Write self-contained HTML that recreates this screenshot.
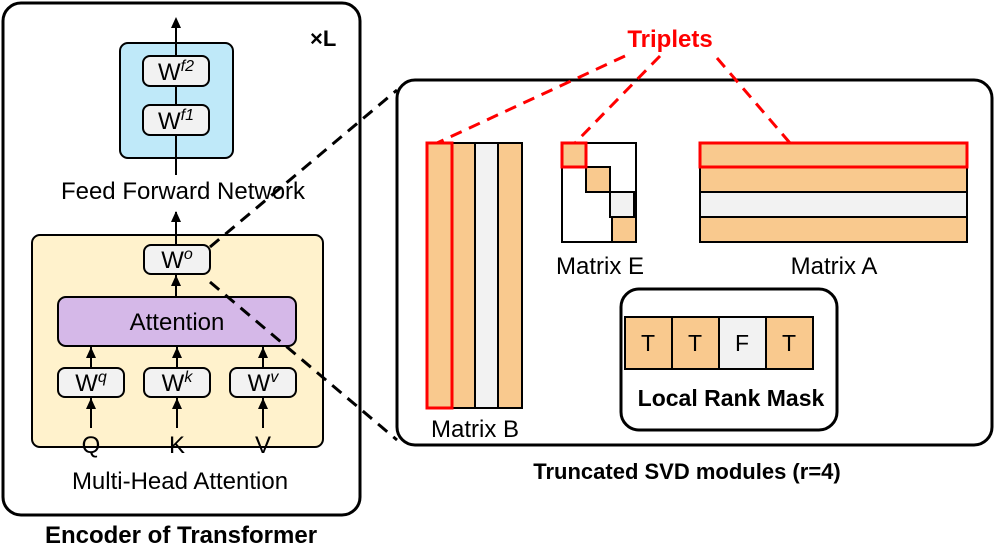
<!DOCTYPE html>
<html><head><meta charset="utf-8"><style>
body{margin:0;background:#fff;}
svg{display:block;font-family:"Liberation Sans",sans-serif;}
</style></head><body>
<svg width="996" height="558" viewBox="0 0 996 558" xmlns="http://www.w3.org/2000/svg">
<!-- left box -->
<rect x="3" y="3" width="357" height="512" rx="18" fill="#fff" stroke="#000" stroke-width="3"/>
<text x="310" y="46" font-size="22" font-weight="bold">×L</text>
<rect x="120" y="43" width="113" height="115" rx="8" fill="#bfe9f9" stroke="#000" stroke-width="2"/>
<line x1="176" y1="175" x2="176" y2="20" stroke="#000" stroke-width="2"/>
<path d="M171,28 L176,17 L181,28z"/><path d="M171,113 L176,102 L181,113z"/><path d="M171,64 L176,53 L181,64z"/>
<rect x="143" y="56" width="66" height="30" rx="7" fill="#f2f2f2" stroke="#000" stroke-width="2"/>
<rect x="143" y="105" width="66" height="30" rx="7" fill="#f2f2f2" stroke="#000" stroke-width="2"/>
<text x="176" y="80" font-size="24" text-anchor="middle">W<tspan font-size="16" font-style="italic" dy="-9">f2</tspan></text>
<text x="176" y="129" font-size="24" text-anchor="middle">W<tspan font-size="16" font-style="italic" dy="-9">f1</tspan></text>
<text x="183" y="199" font-size="24" text-anchor="middle">Feed Forward Network</text>
<rect x="32" y="235" width="291" height="212" rx="8" fill="#fff2cc" stroke="#000" stroke-width="2"/>
<line x1="176" y1="245" x2="176" y2="212" stroke="#000" stroke-width="2"/><path d="M171,222 L176,211 L181,222z"/>
<line x1="176" y1="297" x2="176" y2="274" stroke="#000" stroke-width="2"/><path d="M171,286 L176,275 L181,286z"/>
<rect x="144" y="245" width="66" height="29" rx="7" fill="#f2f2f2" stroke="#000" stroke-width="2"/>
<text x="177" y="268" font-size="24" text-anchor="middle">W<tspan font-size="16" font-style="italic" dy="-9">o</tspan></text>
<rect x="58" y="297" width="238" height="49" rx="8" fill="#d5b8e8" stroke="#000" stroke-width="2"/>
<text x="177" y="330" font-size="24" text-anchor="middle">Attention</text>
<g stroke="#000" stroke-width="2">
<line x1="91" y1="428" x2="91" y2="397"/><line x1="91" y1="368" x2="91" y2="346"/>
<line x1="177" y1="428" x2="177" y2="397"/><line x1="177" y1="368" x2="177" y2="346"/>
<line x1="263" y1="428" x2="263" y2="397"/><line x1="263" y1="368" x2="263" y2="346"/>
</g>
<path d="M86,358 L91,347 L96,358z M172,358 L177,347 L182,358z M258,358 L263,347 L268,358z M86,409 L91,398 L96,409z M172,409 L177,398 L182,409z M258,409 L263,398 L268,409z"/>
<rect x="58" y="368" width="66" height="29" rx="7" fill="#f2f2f2" stroke="#000" stroke-width="2"/>
<rect x="144" y="368" width="66" height="29" rx="7" fill="#f2f2f2" stroke="#000" stroke-width="2"/>
<rect x="230" y="368" width="66" height="29" rx="7" fill="#f2f2f2" stroke="#000" stroke-width="2"/>
<text x="91" y="391" font-size="24" text-anchor="middle">W<tspan font-size="16" font-style="italic" dy="-9">q</tspan></text>
<text x="177" y="391" font-size="24" text-anchor="middle">W<tspan font-size="16" font-style="italic" dy="-9">k</tspan></text>
<text x="263" y="391" font-size="24" text-anchor="middle">W<tspan font-size="16" font-style="italic" dy="-9">v</tspan></text>
<text x="91" y="453" font-size="24" text-anchor="middle">Q</text>
<text x="177" y="453" font-size="24" text-anchor="middle">K</text>
<text x="263" y="453" font-size="24" text-anchor="middle">V</text>
<text x="180" y="489" font-size="24" text-anchor="middle">Multi-Head Attention</text>
<text x="181" y="543" font-size="24" font-weight="bold" text-anchor="middle">Encoder of Transformer</text>
<!-- right box -->
<rect x="397" y="80" width="595" height="365" rx="18" fill="#fff" stroke="#000" stroke-width="3"/>
<g stroke="#000" stroke-width="3" stroke-dasharray="12,8" fill="none">
<line x1="210" y1="247" x2="397" y2="90"/>
<line x1="210" y1="282" x2="397" y2="440"/>
</g>
<!-- matrix B -->
<g stroke="#000" stroke-width="2">
<rect x="427" y="143" width="25" height="265" fill="#f9c98e"/>
<rect x="452" y="143" width="23" height="265" fill="#f9c98e"/>
<rect x="475" y="143" width="23" height="265" fill="#f2f2f2"/>
<rect x="498" y="143" width="24" height="265" fill="#f9c98e"/>
</g>
<rect x="427" y="143" width="25" height="265" fill="none" stroke="#f00" stroke-width="3"/>
<text x="475" y="437" font-size="24" text-anchor="middle">Matrix B</text>
<!-- matrix E -->
<g stroke="#000" stroke-width="2">
<rect x="562" y="143" width="74" height="99" fill="#fff"/>
<rect x="586" y="167" width="24" height="25" fill="#f9c98e"/>
<rect x="610" y="192" width="24" height="25" fill="#f2f2f2"/>
<rect x="612" y="217" width="24" height="25" fill="#f9c98e"/>
</g>
<rect x="562" y="143" width="24" height="24" fill="#f9c98e" stroke="#f00" stroke-width="3"/>
<text x="600" y="274" font-size="24" text-anchor="middle">Matrix E</text>
<!-- matrix A -->
<g stroke="#000" stroke-width="2">
<rect x="700" y="167" width="267" height="25" fill="#f9c98e"/>
<rect x="700" y="192" width="267" height="25" fill="#f2f2f2"/>
<rect x="700" y="217" width="267" height="25" fill="#f9c98e"/>
</g>
<rect x="700" y="143" width="267" height="24" fill="#f9c98e" stroke="#f00" stroke-width="3"/>
<text x="834" y="274" font-size="24" text-anchor="middle">Matrix A</text>
<!-- local rank mask -->
<rect x="621" y="289" width="216" height="141" rx="18" fill="#fff" stroke="#000" stroke-width="3"/>
<g stroke="#000" stroke-width="2">
<rect x="625" y="317" width="47" height="52" fill="#f9c98e"/>
<rect x="672" y="317" width="47" height="52" fill="#f9c98e"/>
<rect x="719" y="317" width="47" height="52" fill="#f2f2f2"/>
<rect x="766" y="317" width="47" height="52" fill="#f9c98e"/>
</g>
<g font-size="23" text-anchor="middle">
<text x="648" y="351">T</text><text x="695" y="351">T</text><text x="742" y="351">F</text><text x="789" y="351">T</text>
</g>
<text x="731" y="406" font-size="23" font-weight="bold" text-anchor="middle">Local Rank Mask</text>
<text x="687" y="479" font-size="22" font-weight="bold" text-anchor="middle">Truncated SVD modules (r=4)</text>
<!-- triplets -->
<text x="670" y="47" font-size="24" font-weight="bold" fill="#f00" text-anchor="middle">Triplets</text>
<g stroke="#f00" stroke-width="3" stroke-dasharray="12,8" fill="none">
<line x1="625" y1="56" x2="437" y2="143"/>
<line x1="660" y1="56" x2="575" y2="143"/>
<line x1="717" y1="58" x2="790" y2="143"/>
</g>
</svg>
</body></html>
